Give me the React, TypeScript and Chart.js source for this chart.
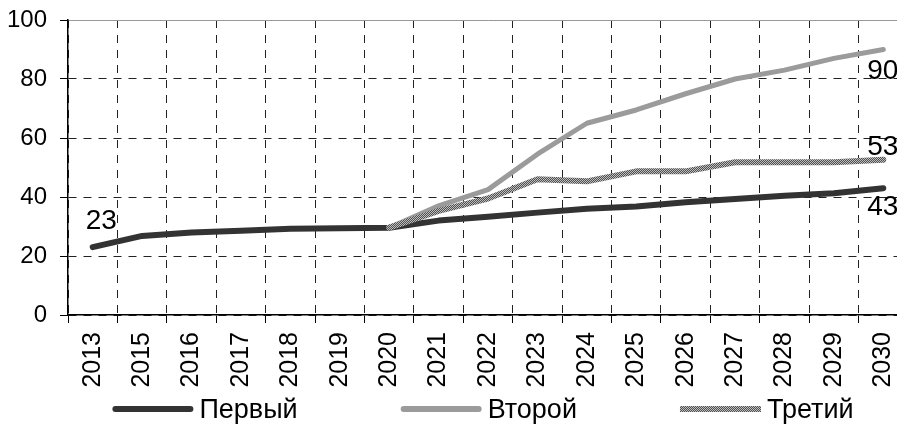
import { useEffect, useRef } from "react";
import { Chart, registerables } from "chart.js";

Chart.register(...registerables);

const categories = ["2013", "2015", "2016", "2017", "2018", "2019", "2020", "2021", "2022", "2023", "2024", "2025", "2026", "2027", "2028", "2029", "2030"];
const seriesNames = ["Первый", "Второй", "Третий"];
const firstValues = [23, 26.8, 28, 28.6, 29.2, 29.4, 29.6, 32, 33.3, 34.7, 36, 36.8, 38.2, 39.3, 40.4, 41.3, 43];
const secondValues = [null, null, null, null, null, null, 29.6, 37, 42.5, 54.5, 65, 69.5, 75, 80, 83, 87, 90];
const thirdValues = [null, null, null, null, null, null, 29.6, 35.3, 39.5, 46, 45.3, 48.7, 48.7, 51.8, 51.8, 51.8, 52.6];
const yMin = 0;
const yMax = 100;
const yStep = 20;

const FONT = "'Liberation Sans', Arial, sans-serif";

export default function App() {
  const ref = useRef<HTMLCanvasElement>(null);

  useEffect(() => {
    const canvas = ref.current;
    if (!canvas) return;
    const ctx = canvas.getContext("2d");
    if (!ctx) return;

    const pc = document.createElement("canvas");
    pc.width = 2;
    pc.height = 2;
    const pctx = pc.getContext("2d")!;
    pctx.fillStyle = "#505050";
    pctx.fillRect(0, 0, 2, 2);
    pctx.fillStyle = "#bdbdbd";
    pctx.fillRect(0, 0, 1, 1);
    pctx.fillRect(1, 1, 1, 1);
    const pattern = ctx.createPattern(pc, "repeat")!;

    const dataLabels = [
      { ds: 0, idx: 0, dx: -7, dy: -26 },
      { ds: 1, idx: 16, dx: -16, dy: 22 },
      { ds: 2, idx: 16, dx: -16, dy: -13 },
      { ds: 0, idx: 16, dx: -16, dy: 19 },
    ];

    const labelsPlugin = {
      id: "valueLabels",
      afterDatasetsDraw(chart: any) {
        const c = chart.ctx;
        c.save();
        c.font = `28px ${FONT}`;
        c.fillStyle = "#000";
        c.textAlign = "left";
        c.textBaseline = "middle";
        dataLabels.forEach(({ ds, idx, dx, dy }) => {
          const el = chart.getDatasetMeta(ds).data[idx];
          const v = chart.data.datasets[ds].data[idx];
          if (!el || v == null) return;
          c.fillText(String(Math.round(v)), el.x + dx, el.y + dy);
        });
        c.restore();
      },
    };

    const legendPlugin = {
      id: "customLegend",
      afterDraw(chart: any) {
        const c = chart.ctx;
        const area = chart.chartArea;
        c.save();
        c.font = `27px ${FONT}`;
        c.fillStyle = "#000";
        c.textAlign = "left";
        c.textBaseline = "middle";
        const box = 81;
        const gap = 6;
        const pad = 103;
        const items = chart.data.datasets.map((d: any, i: number) => ({
          text: d.label,
          color: d.borderColor,
          round: i < 2,
        }));
        const widths = items.map((it: any) => box + gap + c.measureText(it.text).width);
        const total = widths.reduce((a: number, b: number) => a + b, 0) + pad * (items.length - 1);
        let x = (area.left + area.right) / 2 - 5 - total / 2;
        const y = 409;
        items.forEach((it: any, i: number) => {
          c.strokeStyle = it.color;
          c.lineWidth = 6;
          c.lineCap = it.round ? "round" : "butt";
          c.beginPath();
          c.moveTo(x + (it.round ? 3 : 0), y);
          c.lineTo(x + box - (it.round ? 3 : 0), y);
          c.stroke();
          c.fillText(it.text, x + box + gap, y + 2);
          x += widths[i] + pad;
        });
        c.restore();
      },
    };

    const chart = new Chart(canvas, {
      type: "line",
      data: {
        labels: categories,
        datasets: [
          { label: seriesNames[0], data: firstValues, borderColor: "#333333", backgroundColor: "#333333", borderWidth: 6, order: 2 },
          { label: seriesNames[1], data: secondValues, borderColor: "#9b9b9b", backgroundColor: "#9b9b9b", borderWidth: 5, order: 1 },
          { label: seriesNames[2], data: thirdValues, borderColor: pattern as any, backgroundColor: pattern as any, borderWidth: 6, order: 0 },
        ],
      },
      options: {
        responsive: false,
        animation: false,
        devicePixelRatio: 1,
        layout: { padding: { left: 7, top: 20, right: 2, bottom: 39 } },
        elements: {
          point: { radius: 0, hoverRadius: 0 },
          line: { tension: 0, borderCapStyle: "round", borderJoinStyle: "round", fill: false },
        },
        plugins: { legend: { display: false }, tooltip: { enabled: false } },
        scales: {
          x: {
            offset: true,
            afterFit: (s: any) => {
              s.height = 73;
              s.paddingLeft = 0;
              s.paddingRight = 0;
            },
            grid: { offset: true, color: "#222", lineWidth: 1, tickLength: 8, tickColor: "#000", drawTicks: true },
            border: { display: true, color: "#000", width: 1.5, dash: [8, 7] },
            ticks: {
              autoSkip: false,
              maxRotation: 90,
              minRotation: 90,
              padding: 9,
              color: "#000",
              font: { family: FONT, size: 25 },
            },
          },
          y: {
            min: yMin,
            max: yMax,
            afterFit: (s: any) => {
              s.width = 61;
              s.paddingTop = 0;
              s.paddingBottom = 0;
            },
            ticks: { stepSize: yStep, padding: 13, color: "#000", font: { family: FONT, size: 24 } },
            grid: {
              color: (c: any) => (c.tick && c.tick.value === yMax ? "#999" : "#222"),
              lineWidth: 1,
              tickLength: 8,
              tickColor: "#000",
            },
            border: {
              display: true,
              color: "#000",
              width: 1.5,
              dash: (c: any) => (c.tick && c.tick.value === yMax ? [] : [8, 7]),
            },
          },
        },
      },
      plugins: [labelsPlugin, legendPlugin],
    });

    return () => chart.destroy();
  }, []);

  return (
    <div style={{ position: "fixed", left: 0, top: 0, width: 897, height: 427, overflow: "hidden", background: "#fff" }}>
      <canvas ref={ref} width={910} height={427} style={{ display: "block" }} />
    </div>
  );
}
